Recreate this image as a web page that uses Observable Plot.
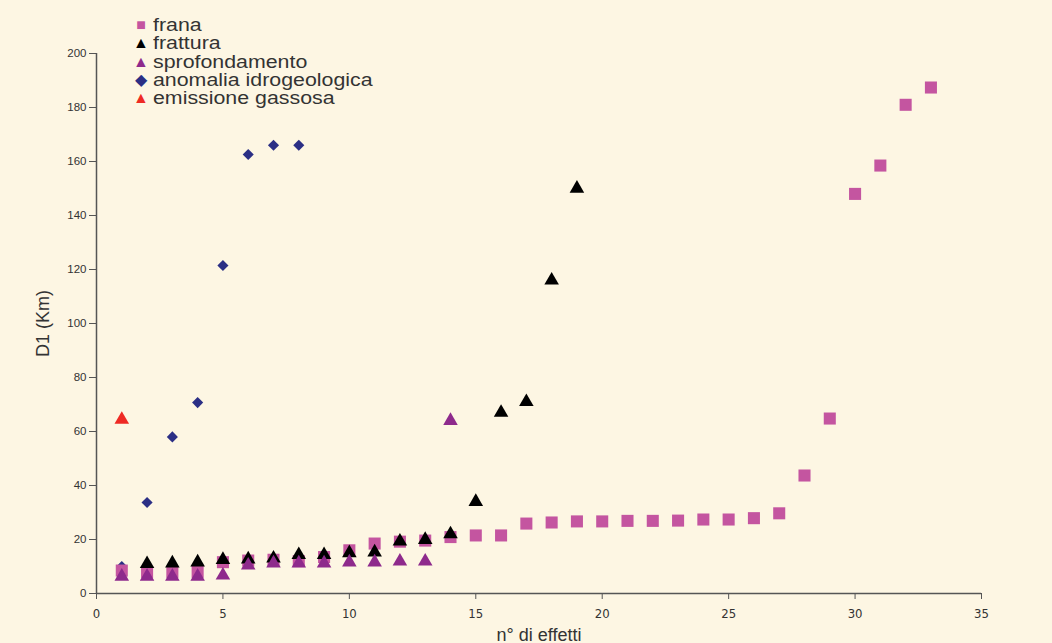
<!DOCTYPE html>
<html>
<head>
<meta charset="utf-8">
<script src="https://cdn.jsdelivr.net/npm/d3@7"></script>
<script src="https://cdn.jsdelivr.net/npm/@observablehq/plot@0.6"></script>
<style>
  html, body { margin: 0; padding: 0; background: #fdf6e3; }
  #wrap { position: relative; width: 1052px; height: 643px; overflow: hidden; }
  #legend { position: absolute; left: 132px; top: 16px; font-family: "Liberation Sans", Arial, sans-serif;
            font-size: 17.5px; line-height: 18.3px; color: #333; }
  #legend .row { white-space: nowrap; height: 18.3px; }
  #legend .sym { display: inline-block; width: 18px; text-align: center; font-size: 16px; vertical-align: 1px; margin-right: 3px; }
  #legend .lbl { display: inline-block; transform: scaleX(1.22); transform-origin: left center; }
  svg g[aria-label="y-axis label"] text { font-size: 18px; fill: #333; }
  svg g[aria-label="x-axis label"] text { font-size: 18px; fill: #333; }
  svg g[aria-label="y-axis tick label"] text { font-size: 11.5px; fill: #333; }
  svg g[aria-label="x-axis tick label"] text { font-family: "Liberation Sans Narrow", "DejaVu Sans Condensed", Arial, sans-serif; font-size: 13px; fill: #333; }
</style>
</head>
<body>
<div id="wrap"></div>
<script>
// Data
const xTicks = [0, 5, 10, 15, 20, 25, 30, 35];
const yTicks = [0, 20, 40, 60, 80, 100, 120, 140, 160, 180, 200];

const seriesNames = ["frana", "frattura", "sprofondamento", "anomalia idrogeologica", "emissione gassosa"];
const seriesColors = ["#c455a0", "#000000", "#8e2a8c", "#2b2f85", "#ee2a24"];
const seriesSymbols = ["square", "triangle", "triangle", "diamond2", "triangle"];
const legendGlyphs = ["■", "▲", "▲", "◆", "▲"];

const franaN  = [1,2,3,4,5,6,7,8,9,10,11,12,13,14,15,16,17,18,19,20,21,22,23,24,25,26,27,28,29,30,31,32,33];
const franaD1 = [8.5,8,8,8,11.6,12.2,12.5,12,13.5,16,18.5,19.2,19.6,20.9,21.5,21.5,25.9,26.3,26.7,26.7,26.9,26.9,27,27.4,27.4,27.9,29.7,43.7,64.8,148,158.5,181,187.4];

const fratturaN  = [2,3,4,5,6,7,8,9,10,11,12,13,14,15,16,17,18,19];
const fratturaD1 = [11,11.2,11.6,12.5,12.7,13,14.3,14.3,15,15.3,19.3,19.9,22,34,67,71,116,150];

const sprofN  = [1,2,3,4,5,6,7,8,9,10,11,12,13,14];
const sprofD1 = [6.3,6.3,6.3,6.3,6.7,10.4,11.2,11.2,11.2,11.6,11.6,11.9,11.9,64];

const anomN  = [1,2,3,4,5,6,7,8];
const anomD1 = [10,33.7,58,70.7,121.5,162.6,166,166];

const gasN  = [1];
const gasD1 = [64.4];

const toRows = (ns, vs) => ns.map((n, i) => ({n, d1: vs[i]}));
const frana = toRows(franaN, franaD1);
const frattura = toRows(fratturaN, fratturaD1);
const sprof = toRows(sprofN, sprofD1);
const anom = toRows(anomN, anomD1);
const gas = toRows(gasN, gasD1);

const dot = (data, k, r) => Plot.dot(data, {x: "n", y: "d1", symbol: () => seriesSymbols[k], r, fill: seriesColors[k], stroke: "none"});

const chart = Plot.plot({
  width: 1052, height: 643,
  marginLeft: 96, marginRight: 71, marginTop: 53, marginBottom: 50,
  style: {background: "#fdf6e3", fontFamily: "Liberation Sans, Arial, sans-serif", fontSize: "11px", color: "#333"},
  x: {domain: [0, 35]},
  y: {domain: [0, 200]},
  symbol: {type: "identity"},
  marks: [
    Plot.axisY({ticks: yTicks, tickSize: 7, tickPadding: 3, stroke: "#555", label: "D1 (Km)", labelAnchor: "center", labelOffset: 60, labelArrow: "none"}),
    Plot.axisX({ticks: xTicks, tickSize: 6, tickPadding: 9, stroke: "#555", label: "n° di effetti", labelAnchor: "center", labelOffset: 47, labelArrow: "none"}),
    Plot.ruleX([0], {stroke: "#555", strokeWidth: 1.5}),
    Plot.ruleY([0], {stroke: "#555", strokeWidth: 1.5}),
    dot(anom, 3, 5),
    dot(frana, 0, 6.8),
    dot(frattura, 1, 5.4),
    dot(sprof, 2, 5.4),
    dot(gas, 4, 5.4)
  ]
});

const wrap = document.getElementById("wrap");
wrap.appendChild(chart);

const legend = document.createElement("div");
legend.id = "legend";
seriesNames.forEach((name, k) => {
  const row = document.createElement("div");
  row.className = "row";
  const s = document.createElement("span");
  s.className = "sym";
  s.style.color = seriesColors[k];
  s.textContent = legendGlyphs[k];
  row.appendChild(s);
  const t = document.createElement("span");
  t.className = "lbl";
  t.textContent = name;
  row.appendChild(t);
  legend.appendChild(row);
});
wrap.appendChild(legend);
</script>
</body>
</html>
